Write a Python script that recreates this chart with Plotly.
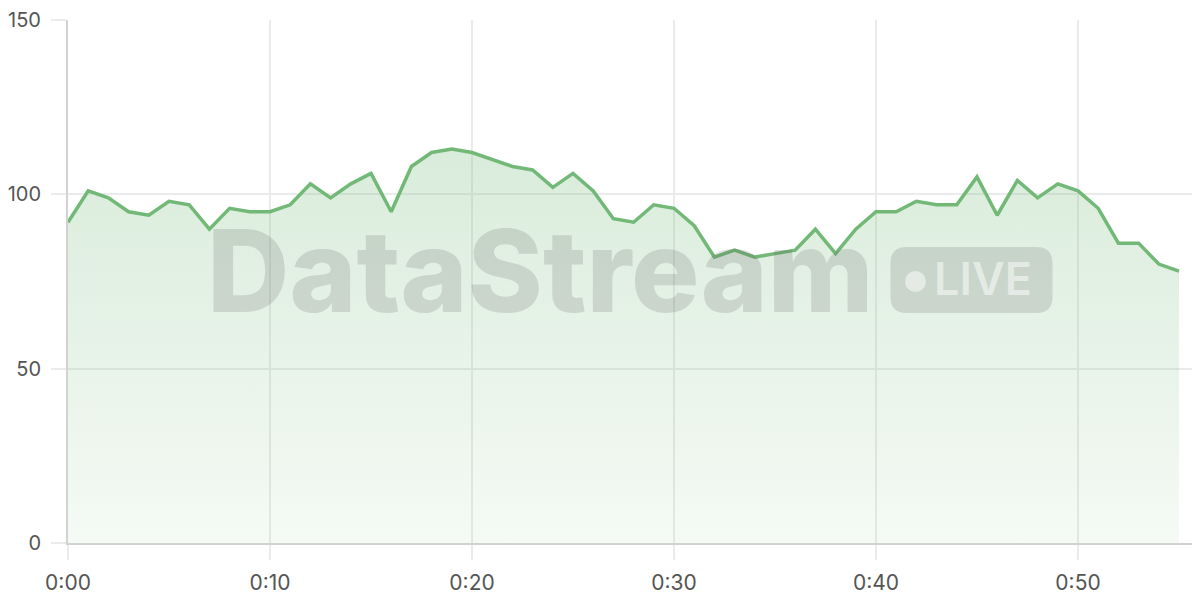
import plotly.graph_objects as go

# minutes since start and the reading at each minute
minutes = list(range(0, 56))
values = [92, 101, 99, 95, 94, 98, 97, 90, 96, 95,
          95, 97, 103, 99, 103, 106, 95, 108, 112, 113,
          112, 110, 108, 107, 102, 106, 101, 93, 92, 97,
          96, 91, 82, 84, 82, 83, 84, 90, 83, 90,
          95, 95, 98, 97, 97, 105, 94, 104, 99, 103,
          101, 96, 86, 86, 80, 78]

x_ticks = [0, 10, 20, 30, 40, 50]
x_labels = ['0:00', '0:10', '0:20', '0:30', '0:40', '0:50']
y_ticks = [0, 50, 100, 150]

line_color = '#72b877'
grid_color = '#ebebeb'
axis_color = '#d2d2d2'
mark_color = 'rgba(90,90,90,0.18)'

# the page body has an 8px margin, so the figure is a little smaller
# and the margins are trimmed to keep the plot where it should be
W, H = 1192, 592
L, T = 60, 12
PW, PH = 1132, 523

trace = go.Scatter(
    x=minutes,
    y=values,
    mode='lines',
    line=dict(color=line_color, width=3.5),
    fill='tozeroy',
    fillgradient=dict(
        type='vertical',
        start=0,
        stop=113,
        colorscale=[[0, 'rgba(114,184,119,0.07)'], [1, 'rgba(114,184,119,0.27)']],
    ),
    hoverinfo='skip',
    showlegend=False,
)

fig = go.Figure(data=[trace])


def px(x, y):
    # screenshot pixel -> paper coords
    return (x - 8 - L) / PW, (T + PH - (y - 8)) / PH


# rounded badge for the "LIVE" tag, drawn in pixels round its centre
w, h, r = 81, 33, 16
badge = (f'M {-w + r},{-h} L {w - r},{-h} Q {w},{-h} {w},{-h + r} '
         f'L {w},{h - r} Q {w},{h} {w - r},{h} L {-w + r},{h} '
         f'Q {-w},{h} {-w},{h - r} L {-w},{-h + r} Q {-w},{-h} {-w + r},{-h} Z')

bx, by = px(971.5, 280)
dx, dy = px(915.5, 281.5)
wx, wy = px(540, 270)
lx, ly = px(983, 278)

axis_style = dict(
    showgrid=True,
    gridcolor=grid_color,
    gridwidth=1.5,
    showline=True,
    linecolor=axis_color,
    linewidth=2,
    zeroline=False,
    ticks='outside',
    ticklen=15,
    tickcolor=grid_color,
    tickwidth=1.5,
    automargin=False,
    ticklabeloverflow='allow',
)

fig.update_layout(
    width=W,
    height=H,
    margin=dict(l=L, r=W - L - PW, t=T, b=H - T - PH, autoexpand=False),
    paper_bgcolor='white',
    plot_bgcolor='white',
    font=dict(family='Inter', size=21, color='#555555'),
    xaxis=dict(range=[0, 56.04], tickvals=x_ticks, ticktext=x_labels,
               ticklabelstandoff=5, **axis_style),
    yaxis=dict(range=[0, 150], tickvals=y_ticks, tickfont=dict(size=20),
               ticklabelstandoff=6, **axis_style),
    shapes=[
        dict(type='path', xref='paper', yref='paper',
             xsizemode='pixel', ysizemode='pixel',
             xanchor=bx, yanchor=by,
             path=badge, fillcolor=mark_color, line=dict(width=0), layer='above'),
        dict(type='circle', xref='paper', yref='paper',
             xsizemode='pixel', ysizemode='pixel',
             xanchor=dx, yanchor=dy,
             x0=-10.5, x1=10.5, y0=-10.5, y1=10.5,
             fillcolor='rgba(255,255,255,0.5)', line=dict(width=0), layer='above'),
    ],
    annotations=[
        dict(text='DataStream', xref='paper', yref='paper',
             x=wx, y=wy, xanchor='center', yanchor='middle', showarrow=False,
             font=dict(family='Inter', size=114, weight=800, color=mark_color)),
        dict(text='LIVE', xref='paper', yref='paper',
             x=lx, y=ly, xanchor='center', yanchor='middle', showarrow=False,
             font=dict(family='Inter', size=45, weight=600, color='rgba(255,255,255,0.5)')),
    ],
)

fig.write_html('out.html')
